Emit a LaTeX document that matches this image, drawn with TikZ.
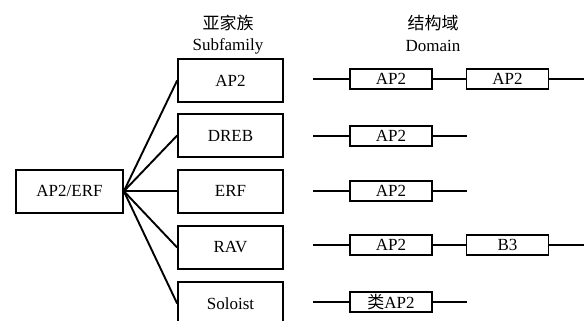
\documentclass[tikz,border=0pt]{standalone}
\usepackage{fontspec}
\setmainfont{Liberation Serif}
\newfontfamily\cjk{Noto Sans CJK SC}
\begin{document}
\begin{tikzpicture}[x=1pt,y=-1pt,
  box/.style={draw, line width=1.7pt, minimum width=105pt, minimum height=43pt, inner sep=0pt, font=\fontsize{17}{17}\selectfont},
  dom/.style={draw, line width=1.4pt, minimum width=82pt, minimum height=20pt, inner sep=0pt, font=\fontsize{17}{17}\selectfont},
  head/.style={inner sep=0pt, font=\fontsize{17}{17}\selectfont},
  link/.style={line width=1.9pt},
  dline/.style={line width=1.4pt}]
\useasboundingbox (0,0) rectangle (584,321);
% headers
\node[head] (h1) at (228,23) {\cjk 亚家族};
\node[head] (h2) at (228,46) {Subfamily};
\node[head] (h3) at (433,23) {\cjk 结构域};
\node[head] (h4) at (433,46) {Domain};
% root and subfamilies
\node[box, minimum width=107pt] (root) at (69.5,191.2) {AP2/ERF};
\node[box] (s1) at (230.5,80.5) {AP2};
\node[box] (s2) at (230.5,135.5) {DREB};
\node[box] (s3) at (230.5,191.2) {ERF};
\node[box] (s4) at (230.5,247.5) {RAV};
\node[box] (s5) at (230.5,303.5) {Soloist};
\foreach \s in {s1,s2,s3,s4,s5} \draw[link] (root.east) -- (\s.west);
% domains
\node[dom] (d1a) at (391,79) {AP2};
\node[dom] (d1b) at (507.5,79) {AP2};
\node[dom] (d2a) at (391,136) {AP2};
\node[dom] (d3a) at (391,191) {AP2};
\node[dom] (d4a) at (391,245) {AP2};
\node[dom] (d4b) at (507.5,245) {B3};
\node[dom] (d5a) at (391,302) {{\cjk 类}AP2};
\coordinate (r1s) at (313,79);   \coordinate (r1e) at (584,79);
\coordinate (r2s) at (313,136);  \coordinate (r2e) at (467,136);
\coordinate (r3s) at (313,191);  \coordinate (r3e) at (467,191);
\coordinate (r4s) at (313,245);  \coordinate (r4e) at (584,245);
\coordinate (r5s) at (313,302);  \coordinate (r5e) at (467,302);
\draw[dline] (r1s) -- (d1a.west) (d1a.east) -- (d1b.west) (d1b.east) -- (r1e);
\draw[dline] (r2s) -- (d2a.west) (d2a.east) -- (r2e);
\draw[dline] (r3s) -- (d3a.west) (d3a.east) -- (r3e);
\draw[dline] (r4s) -- (d4a.west) (d4a.east) -- (d4b.west) (d4b.east) -- (r4e);
\draw[dline] (r5s) -- (d5a.west) (d5a.east) -- (r5e);
\end{tikzpicture}
\end{document}
